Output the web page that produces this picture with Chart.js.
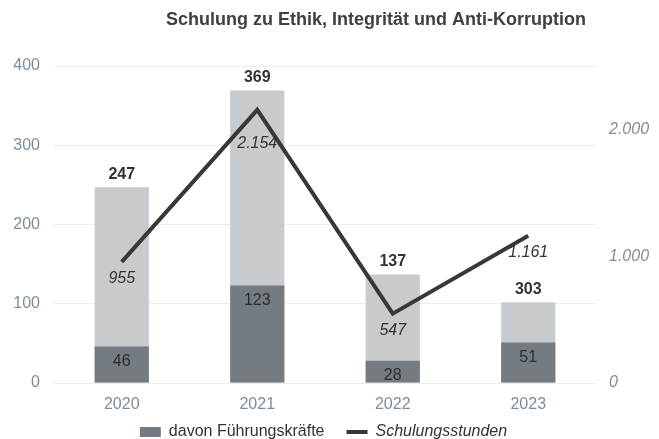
<!DOCTYPE html>
<html>
<head>
<meta charset="utf-8">
<script src="https://cdn.jsdelivr.net/npm/chart.js@4"></script>
<style>
html,body{margin:0;padding:0;background:#fff;}
#wrap{width:659px;height:439px;position:relative;}
</style>
</head>
<body>
<div id="wrap"><canvas id="c"></canvas></div>
<script>
const categories = ['2020', '2021', '2022', '2023'];
const totalBars = [247, 369, 137, 102];
const totalLabels = ['247', '369', '137', '303'];
const leaders = [46, 123, 28, 51];
const hours = [955, 2154, 547, 1161];
const leftTicks = [0, 100, 200, 300, 400];
const rightTicks = [0, 1000, 2000];
const titleText = 'Schulung zu Ethik, Integrität und Anti-Korruption';
const italicLegend = ['Schulungsstunden'];

const FONT = "'Liberation Sans', Arial, Helvetica, sans-serif";
function fmt(v){ return String(v).replace(/\B(?=(\d{3})+(?!\d))/g, '.'); }

const legendSizePlugin = {
  id: 'legendSize',
  afterInit(chart){
    const lg = chart.legend;
    if (lg && !lg._patched) {
      const orig = lg.fit;
      lg.fit = function(){ orig.call(this); this.height = 23; };
      const origDraw = lg.draw;
      lg.draw = function(){
        const ctx = this.ctx;
        const ft = ctx.fillText;
        ctx.fillText = function(t, x, y, m){
          if (italicLegend.includes(t) && this.font.indexOf('italic') < 0) this.font = 'italic ' + this.font;
          return m === undefined ? ft.call(this, t, x, y) : ft.call(this, t, x, y, m);
        };
        try { origDraw.apply(this, arguments); } finally { ctx.fillText = ft; }
      };
      lg._patched = true;
    }
  },
  afterLayout(chart){
    const lg = chart.legend;
    if (lg) {
      lg.top = 402;
      lg.bottom = chart.height;
      lg.height = lg.bottom - lg.top;
      lg.left -= 6;
      lg.right -= 6;
    }
  }
};

const labelPlugin = {
  id: 'labels',
  afterDatasetsDraw(chart){
    const ctx = chart.ctx;
    ctx.save();
    // title
    ctx.font = 'bold 18px ' + FONT;
    ctx.fillStyle = '#404040';
    ctx.textAlign = 'center';
    ctx.textBaseline = 'middle';
    ctx.fillText(titleText, 376, 20);
    // totals
    const mTot = chart.getDatasetMeta(0);
    ctx.font = 'bold 16px ' + FONT;
    ctx.fillStyle = '#333333';
    mTot.data.forEach((el, i) => {
      ctx.fillText(totalLabels[i], el.x, el.y - 12.5);
    });
    // leaders
    const mLead = chart.getDatasetMeta(1);
    ctx.font = '16px ' + FONT;
    ctx.fillStyle = '#2e2e2e';
    mLead.data.forEach((el, i) => {
      ctx.fillText(String(leaders[i]), el.x, el.y + 15);
    });
    // hours
    const mLine = chart.getDatasetMeta(2);
    ctx.font = 'italic 16px ' + FONT;
    ctx.fillStyle = '#333333';
    mLine.data.forEach((el, i) => {
      const interior = i > 0 && i < hours.length - 1;
      const peak = interior && hours[i] > hours[i-1] && hours[i] > hours[i+1];
      ctx.fillText(fmt(hours[i]), el.x, el.y + (peak ? 34 : 17));
    });
    ctx.restore();
  }
};

new Chart(document.getElementById('c'), {
  data: {
    labels: categories,
    datasets: [
      { type: 'bar', label: 'Gesamt', data: totalBars, backgroundColor: '#c8cbce',
        grouped: false, order: 2, yAxisID: 'y', barPercentage: 0.4, categoryPercentage: 1 },
      { type: 'bar', label: 'davon Führungskräfte', data: leaders, backgroundColor: '#747b81',
        grouped: false, order: 1, yAxisID: 'y', barPercentage: 0.4, categoryPercentage: 1 },
      { type: 'line', label: 'Schulungsstunden', data: hours, borderColor: '#383838',
        backgroundColor: '#383838', borderWidth: 4, pointRadius: 0, tension: 0,
        order: 0, yAxisID: 'y2' }
    ]
  },
  options: {
    responsive: true,
    maintainAspectRatio: false,
    animation: false,
    layout: { padding: { top: 66, left: 0, right: 0, bottom: 0 } },
    plugins: {
      title: { display: false },
      tooltip: { enabled: false },
      legend: {
        position: 'bottom',
        labels: {
          usePointStyle: true,
          pointStyleWidth: 21,
          boxHeight: 10,
          padding: 22,
          font: { family: FONT, size: 16 },
          color: '#333333',
          filter: (item) => item.datasetIndex !== 0,
          sort: (a, b) => a.datasetIndex - b.datasetIndex,
          generateLabels(chart){
            const items = Chart.defaults.plugins.legend.labels.generateLabels(chart);
            items.forEach(it => {
              if (it.datasetIndex === 2) {
                it.pointStyle = 'line'; it.lineWidth = 4; it.strokeStyle = '#383838';
              } else {
                it.pointStyle = 'rect'; it.lineWidth = 0; it.strokeStyle = 'rgba(0,0,0,0)';
              }
            });
            return items;
          }
        }
      }
    },
    scales: {
      x: {
        grid: { display: false, drawTicks: false },
        border: { display: false },
        afterFit: (axis) => { axis.height = 33; },
        ticks: { color: '#7d8c9c', font: { family: FONT, size: 16 }, padding: 12 }
      },
      y: {
        position: 'left',
        min: 0, max: 400,
        afterBuildTicks: (axis) => { axis.ticks = leftTicks.map(v => ({ value: v })); },
        afterFit: (axis) => { axis.width = 54; },
        grid: { color: '#ececec', lineWidth: 1, drawTicks: false },
        border: { display: false },
        ticks: { color: '#7d8c9c', font: { family: FONT, size: 16 }, padding: 14 }
      },
      y2: {
        position: 'right',
        min: 0, max: 2500,
        afterBuildTicks: (axis) => { axis.ticks = rightTicks.map(v => ({ value: v })); },
        afterFit: (axis) => { axis.width = 63; },
        grid: { display: false, drawTicks: false },
        border: { display: false },
        ticks: { color: '#8a8a8a', font: { family: FONT, size: 16, style: 'italic' }, padding: 13,
          callback: (v) => fmt(v) }
      }
    }
  },
  plugins: [legendSizePlugin, labelPlugin]
});
</script>
</body>
</html>
